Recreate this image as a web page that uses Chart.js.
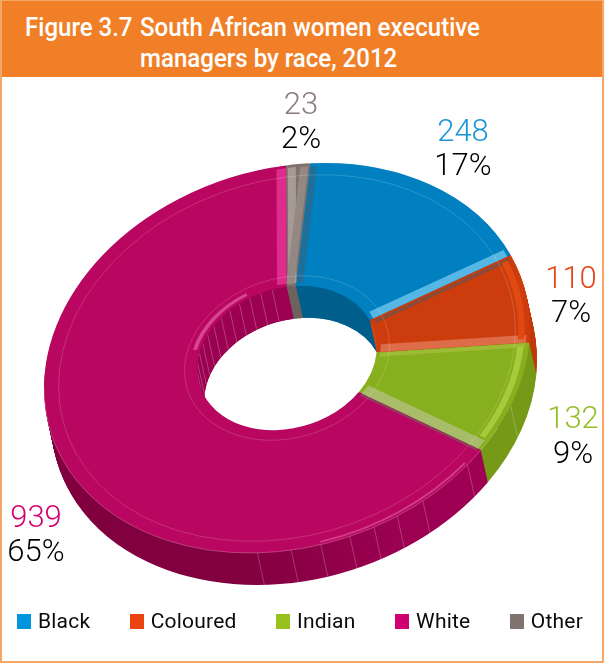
<!DOCTYPE html>
<html>
<head>
<meta charset="utf-8">
<title>Figure 3.7</title>
<script src="https://cdn.jsdelivr.net/npm/chart.js@4"></script>
<style>
    body { margin: 0; background: #fff; font-family: Roboto, sans-serif; }
    #frame { position: relative; width: 604px; height: 663px; box-sizing: border-box; overflow: hidden; }
    #frame::after { content: ''; position: absolute; inset: 0; border: 2px solid #f6a765; border-top-width: 1px; pointer-events: none; }
    #header { position: absolute; left: 0; top: 1px; width: 604px; height: 76px; background: #f17f27; color: #fff; font-size: 26px; font-weight: 500; line-height: 31px; }
    #header span { position: absolute; white-space: pre; transform: scaleX(.925); transform-origin: left; }
    #chart { position: absolute; left: 0; top: 0; }
    #legend { position: absolute; left: 17px; top: 607px; display: flex; font-size: 21px; line-height: 28px; color: #0a0a0a; letter-spacing: .2px; }
    #legend div { display: flex; align-items: center; margin-right: 39.5px; }
    #legend i { width: 14px; height: 15px; margin-right: 7px; }
</style>
</head>
<body>
<div id="frame">
    <div id="header"><span style="left:25px;top:11px">Figure 3.7</span><span style="left:140px;top:11px">South African women executive</span><span style="left:140px;top:42px">managers by race, 2012</span></div>
    <canvas id="chart" width="604" height="663"></canvas>
    <div id="legend"></div>
</div>
<script>
const categories = ['Black', 'Coloured', 'Indian', 'White', 'Other'];
const counts = [248, 110, 132, 939, 23];
const percents = ['17%', '7%', '9%', '65%', '2%'];

const faceColors = ['#0080c0', '#cd3c0c', '#88b01e', '#b90660', '#7f716c'];
const legendColors = ['#0095dc', '#ea4412', '#97c11d', '#cf0070', '#807370'];
const labelColors = ['#1a95d8', '#e5471a', '#95bf26', '#d4006f', '#8a7c78'];
const innerWalls = ['#005f8c', '#e0440f', '#7da21c', '#9c0052', '#6f625d'];

// where the count / percent pairs sit, centre x and the two baselines
const labelSpots = [[463, 141, 175], [571, 288, 322], [573, 428, 463], [36, 527, 561], [301, 114, 148]];

// tilt of the disc on the page, the extrusion also leans a little to the right
const DISC = { cx: 287, cy: 358, a: 243, b: -30, c: 0, d: 192.7, depth: 32, lean: 7 };
const R0 = 302;
const outerSeams = [113, 132, 146, 153, 159, 165, 172, 179, 187];

function tilt(ctx, chart, dy) {
    const ox = chart.width / 2, oy = chart.height / 2;
    ctx.setTransform(1, 0, 0, 1, 0, 0);
    ctx.translate(DISC.cx + DISC.lean * dy / DISC.depth, DISC.cy + dy);
    ctx.transform(DISC.a / R0, DISC.b / R0, DISC.c / R0, DISC.d / R0, 0, 0);
    ctx.translate(-ox, -oy);
}

function paintArc(ctx, arc, color) {
    const o = arc.options;
    arc.options = Object.assign({}, o, { backgroundColor: color });
    arc.draw(ctx);
    arc.options = o;
}

function outerWall(ctx, i) {
    if (i !== 3) return ['#0070a8', '#c23a0b', '#769a18', '', '#6f625d'][i];
    const g = ctx.createLinearGradient(0, 0, 604, 0);
    g.addColorStop(0, '#80003e');
    g.addColorStop(.42, '#83003f');
    g.addColorStop(.72, '#9c0052');
    g.addColorStop(1, '#a00054');
    return g;
}

// seam running down the wall, drawn in page pixels
function seam(ctx, chart, arc, radius, t) {
    tilt(ctx, chart, 0);
    const p = ctx.getTransform().transformPoint(new DOMPoint(arc.x + Math.cos(deg(t)) * radius, arc.y + Math.sin(deg(t)) * radius));
    ctx.setTransform(1, 0, 0, 1, 0, 0);
    ctx.beginPath();
    ctx.moveTo(p.x, p.y);
    ctx.lineTo(p.x + DISC.lean, p.y + DISC.depth);
    ctx.stroke();
}

// radial band along a slice edge, offset sideways from the true edge
function edgeBand(ctx, arc, angle, offset, width, color) {
    const c = Math.cos(angle), s = Math.sin(angle);
    const nx = -s * offset, ny = c * offset;
    ctx.strokeStyle = color;
    ctx.lineWidth = width;
    ctx.beginPath();
    ctx.moveTo(arc.x + c * arc.innerRadius * 1.04 + nx, arc.y + s * arc.innerRadius * 1.04 + ny);
    ctx.lineTo(arc.x + c * arc.outerRadius * .985 + nx, arc.y + s * arc.outerRadius * .985 + ny);
    ctx.stroke();
}

function rim(ctx, arc, r, from, to, color, width) {
    ctx.strokeStyle = color;
    ctx.lineWidth = width;
    ctx.beginPath();
    ctx.arc(arc.x, arc.y, r, from, to);
    ctx.stroke();
}

const deg = d => (d - 90) * Math.PI / 180;

const discPlugin = {
    id: 'disc',
    beforeDatasetsDraw(chart) {
        const ctx = chart.ctx, arcs = chart.getDatasetMeta(0).data, first = arcs[0];
        ctx.save();
        for (let dy = DISC.depth; dy > 0; dy--) {
            tilt(ctx, chart, dy);
            arcs.forEach((arc, i) => paintArc(ctx, arc, outerWall(ctx, i)));
        }
        // the wall seen through the hole
        ctx.save();
        tilt(ctx, chart, 0);
        ctx.beginPath();
        ctx.arc(first.x, first.y, first.innerRadius, 0, Math.PI * 2);
        ctx.clip();
        for (let dy = DISC.depth; dy > 0; dy--) {
            tilt(ctx, chart, dy);
            arcs.forEach((arc, i) => paintArc(ctx, arc, innerWalls[i]));
        }
        ctx.strokeStyle = 'rgba(255,255,255,.3)';
        ctx.lineWidth = .8;
        for (let t = 268; t < 352; t += 7.5) seam(ctx, chart, first, first.innerRadius, t);
        ctx.restore();
        // seams on the outer wall
        ctx.strokeStyle = 'rgba(255,255,255,.28)';
        ctx.lineWidth = .8;
        outerSeams.forEach(t => seam(ctx, chart, first, first.outerRadius, t));
        tilt(ctx, chart, 0);
    },
    afterDatasetsDraw(chart) {
        const ctx = chart.ctx, arcs = chart.getDatasetMeta(0).data, first = arcs[0];
        const [blue, orange, green, white, other] = arcs;
        ctx.lineCap = 'butt';
        const R = first.outerRadius, r = first.innerRadius;

        // raised edges between the slices
        edgeBand(ctx, blue, blue.endAngle, -6, 12, '#57b7e4');
        edgeBand(ctx, orange, orange.startAngle, 6, 6, '#8f4a36');
        edgeBand(ctx, orange, orange.endAngle, -6, 12, '#dd6d48');
        edgeBand(ctx, green, green.startAngle, 4, 6, '#9dbb35');
        edgeBand(ctx, green, green.endAngle, -7, 14, '#a8bd6a');
        edgeBand(ctx, white, white.startAngle, 2, 3, '#8f3f5f');
        edgeBand(ctx, white, white.endAngle, -6, 12, '#de2c8c');
        edgeBand(ctx, other, other.startAngle, 7, 10, '#a69a95');
        edgeBand(ctx, other, other.endAngle, -7, 10, '#948884');
        edgeBand(ctx, blue, blue.startAngle, 5, 8, '#1f6f99');

        // lit rim
        rim(ctx, green, R * .965, green.startAngle + .02, green.endAngle - .06, '#a8cb3c', 8);
        rim(ctx, orange, R * .965, orange.startAngle + .02, orange.endAngle - .02, '#de4a12', 8);
        rim(ctx, white, R * .985, deg(132), deg(172), 'rgba(255,190,220,.3)', 3);
        rim(ctx, white, r * 1.06, deg(285), deg(335), 'rgba(255,170,210,.4)', 5);

        // hairlines that follow the bevel
        rim(ctx, first, R * .94, 0, Math.PI * 2, 'rgba(255,255,255,.28)', .8);
        rim(ctx, first, R, deg(120), deg(270), 'rgba(255,255,255,.35)', .9);
        rim(ctx, first, r * 1.14, 0, Math.PI * 2, 'rgba(255,255,255,.28)', .8);

        ctx.restore();
    },
    afterDraw(chart) {
        const ctx = chart.ctx;
        ctx.save();
        ctx.textAlign = 'center';
        ctx.font = '300 31px Roboto';
        labelSpots.forEach(([x, y1, y2], i) => {
            ctx.fillStyle = labelColors[i];
            ctx.fillText(String(counts[i]), x, y1);
            ctx.fillStyle = '#000';
            ctx.fillText(percents[i], x, y2);
        });
        ctx.restore();
    }
};

new Chart(document.getElementById('chart'), {
    type: 'doughnut',
    data: {
        labels: categories,
        datasets: [{ data: counts, backgroundColor: faceColors, borderWidth: 0, hoverOffset: 0 }]
    },
    options: {
        responsive: false,
        animation: false,
        cutout: '37%',
        rotation: 5.5,
        layout: { padding: 0 },
        plugins: { legend: { display: false }, tooltip: { enabled: false } }
    },
    plugins: [discPlugin]
});

const legendEl = document.getElementById('legend');
categories.forEach((name, i) => {
    const item = document.createElement('div');
    item.innerHTML = `<i style="background:${legendColors[i]}"></i>${name}`;
    legendEl.appendChild(item);
});
</script>
</body>
</html>
